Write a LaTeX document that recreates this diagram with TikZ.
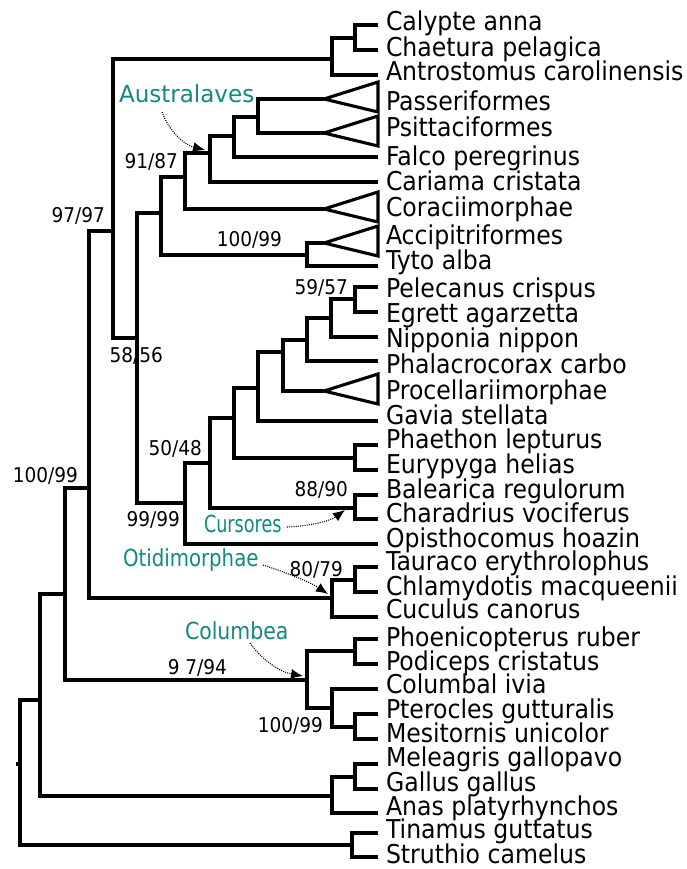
\documentclass[tikz,border=0pt]{standalone}
\usepackage{fontspec}
\setmainfont{DejaVu Sans}
\usetikzlibrary{arrows.meta}
\definecolor{cladeteal}{RGB}{17,136,128}
\newcommand{\tallText}[1]{\scalebox{1}[1.1]{#1}}
\tikzset{
  br/.style={line width=3.1pt, line join=miter, black},
  leaf/.style={anchor=base west, inner sep=0pt, outer sep=0pt, font=\fontsize{23.6}{24}\selectfont},
  supp/.style={anchor=base east, inner sep=0pt, outer sep=0pt, font=\fontsize{18.5}{19}\selectfont},
  clade/.style={anchor=base west, inner sep=0pt, outer sep=0pt, text=cladeteal, font=\fontsize{23.5}{24}\selectfont},
  pointer/.style={line width=1.1pt, dash pattern=on 1pt off 1.2pt, -{Latex[length=12pt,width=10pt]}},
}
\begin{document}
\begin{tikzpicture}[x=1pt,y=-1pt]
\useasboundingbox (0,0) rectangle (687,869);
% internal nodes
\coordinate (R) at (20,764);
\coordinate (A1) at (40,700);
\coordinate (A2) at (65,594);
\coordinate (A3) at (89,488);
\coordinate (A4) at (113,231);
\coordinate (Cal) at (332,59);
\coordinate (CC) at (355,38);
\coordinate (A5) at (137,338);
\coordinate (A6) at (161,213);
\coordinate (AT) at (307,255);
\coordinate (A7) at (185,177);
\coordinate (Aus) at (210,153);
\coordinate (A8) at (234,136);
\coordinate (A9) at (258,117);
\coordinate (W) at (185,503);
\coordinate (W1) at (210,463);
\coordinate (Curs) at (355,508);
\coordinate (W2) at (234,418);
\coordinate (PE) at (355,458);
\coordinate (W3) at (258,388);
\coordinate (W4) at (283,352);
\coordinate (W5) at (307,340);
\coordinate (W6) at (331,318);
\coordinate (W7) at (355,299);
\coordinate (Oti) at (332,598);
\coordinate (TC) at (355,580);
\coordinate (Col) at (307,680);
\coordinate (PP) at (355,651);
\coordinate (CPM) at (332,708);
\coordinate (PM) at (355,727);
\coordinate (G) at (332,796);
\coordinate (MG) at (355,777);
\coordinate (T) at (352,845);
% tips
\coordinate (tCal) at (378,25);
\coordinate (tCha) at (378,50);
\coordinate (tAnt) at (378,75);
\coordinate (tPas) at (324,99);
\coordinate (tPsi) at (324,133);
\coordinate (tFal) at (378,157);
\coordinate (tCar) at (378,182);
\coordinate (tCor) at (324,209);
\coordinate (tAcc) at (324,243);
\coordinate (tTyt) at (378,266);
\coordinate (tPel) at (378,287);
\coordinate (tEgr) at (378,312);
\coordinate (tNip) at (378,337);
\coordinate (tPha) at (378,361);
\coordinate (tPro) at (324,391);
\coordinate (tGav) at (378,421);
\coordinate (tPht) at (378,445);
\coordinate (tEur) at (378,470);
\coordinate (tBal) at (378,495);
\coordinate (tChr) at (378,519);
\coordinate (tOpi) at (378,544);
\coordinate (tTau) at (378,567);
\coordinate (tChl) at (378,592);
\coordinate (tCuc) at (378,617);
\coordinate (tPho) at (378,639);
\coordinate (tPod) at (378,664);
\coordinate (tClb) at (378,689);
\coordinate (tPte) at (378,714);
\coordinate (tMes) at (378,739);
\coordinate (tMel) at (378,764);
\coordinate (tGal) at (378,789);
\coordinate (tAna) at (378,813);
\coordinate (tTin) at (378,833);
\coordinate (tStr) at (378,857);
% branches
\draw[br] (R) -- ++(-4,0);
\draw[br] (R) |- (A1);
\draw[br] (R) |- (T);
\draw[br] (A1) |- (A2);
\draw[br] (A1) |- (G);
\draw[br] (A2) |- (A3);
\draw[br] (A2) |- (Col);
\draw[br] (A3) |- (A4);
\draw[br] (A3) |- (Oti);
\draw[br] (A4) |- (Cal);
\draw[br] (A4) |- (A5);
\draw[br] (Cal) |- (CC);
\draw[br] (Cal) |- (tAnt);
\draw[br] (CC) |- (tCal);
\draw[br] (CC) |- (tCha);
\draw[br] (A5) |- (A6);
\draw[br] (A5) |- (W);
\draw[br] (A6) |- (A7);
\draw[br] (A6) |- (AT);
\draw[br] (AT) |- (tAcc);
\draw[br] (AT) |- (tTyt);
\draw[br] (A7) |- (Aus);
\draw[br] (A7) |- (tCor);
\draw[br] (Aus) |- (A8);
\draw[br] (Aus) |- (tCar);
\draw[br] (A8) |- (A9);
\draw[br] (A8) |- (tFal);
\draw[br] (A9) |- (tPas);
\draw[br] (A9) |- (tPsi);
\draw[br] (W) |- (W1);
\draw[br] (W) |- (tOpi);
\draw[br] (W1) |- (W2);
\draw[br] (W1) |- (Curs);
\draw[br] (Curs) |- (tBal);
\draw[br] (Curs) |- (tChr);
\draw[br] (W2) |- (W3);
\draw[br] (W2) |- (PE);
\draw[br] (PE) |- (tPht);
\draw[br] (PE) |- (tEur);
\draw[br] (W3) |- (W4);
\draw[br] (W3) |- (tGav);
\draw[br] (W4) |- (W5);
\draw[br] (W4) |- (tPro);
\draw[br] (W5) |- (W6);
\draw[br] (W5) |- (tPha);
\draw[br] (W6) |- (W7);
\draw[br] (W6) |- (tNip);
\draw[br] (W7) |- (tPel);
\draw[br] (W7) |- (tEgr);
\draw[br] (Oti) |- (TC);
\draw[br] (Oti) |- (tCuc);
\draw[br] (TC) |- (tTau);
\draw[br] (TC) |- (tChl);
\draw[br] (Col) |- (PP);
\draw[br] (Col) |- (CPM);
\draw[br] (PP) |- (tPho);
\draw[br] (PP) |- (tPod);
\draw[br] (CPM) |- (tClb);
\draw[br] (CPM) |- (PM);
\draw[br] (PM) |- (tPte);
\draw[br] (PM) |- (tMes);
\draw[br] (G) |- (MG);
\draw[br] (G) |- (tAna);
\draw[br] (MG) |- (tMel);
\draw[br] (MG) |- (tGal);
\draw[br] (T) |- (tTin);
\draw[br] (T) |- (tStr);
% collapsed clades
\foreach \t in {tPas,tPsi,tCor,tAcc,tPro}
  \draw[br] (\t) -- ++(54,-17) -- ++(0,30) -- cycle;
% leaf labels
\node[leaf] (nCal) at (386,31) {\tallText{Calypte anna}};
\node[leaf] (nCha) at (386,56.5) {\tallText{Chaetura pelagica}};
\node[leaf] (nAnt) at (386,80.5) {\tallText{Antrostomus carolinensis}};
\node[leaf] (nPas) at (386,110.5) {\tallText{Passeriformes}};
\node[leaf] (nPsi) at (386,136.5) {\tallText{Psittaciformes}};
\node[leaf] (nFal) at (386,165.5) {\tallText{Falco peregrinus}};
\node[leaf] (nCar) at (386,190.5) {\tallText{Cariama cristata}};
\node[leaf] (nCor) at (386,216.5) {\tallText{Coraciimorphae}};
\node[leaf] (nAcc) at (386,244.5) {\tallText{Accipitriformes}};
\node[leaf] (nTyt) at (386,269.5) {\tallText{Tyto alba}};
\node[leaf] (nPel) at (386,297.5) {\tallText{Pelecanus crispus}};
\node[leaf] (nEgr) at (386,322.5) {\tallText{Egrett agarzetta}};
\node[leaf] (nNip) at (386,347.5) {\tallText{Nipponia nippon}};
\node[leaf] (nPha) at (386,373.5) {\tallText{Phalacrocorax carbo}};
\node[leaf] (nPro) at (386,399.5) {\tallText{Procellariimorphae}};
\node[leaf] (nGav) at (386,424.5) {\tallText{Gavia stellata}};
\node[leaf] (nPht) at (386,448.5) {\tallText{Phaethon lepturus}};
\node[leaf] (nEur) at (386,473.5) {\tallText{Eurypyga helias}};
\node[leaf] (nBal) at (386,498.5) {\tallText{Balearica regulorum}};
\node[leaf] (nChr) at (386,522.5) {\tallText{Charadrius vociferus}};
\node[leaf] (nOpi) at (386,547.5) {\tallText{Opisthocomus hoazin}};
\node[leaf] (nTau) at (386,570.5) {\tallText{Tauraco erythrolophus}};
\node[leaf] (nChl) at (386,595.5) {\tallText{Chlamydotis macqueenii}};
\node[leaf] (nCuc) at (386,618.5) {\tallText{Cuculus canorus}};
\node[leaf] (nPho) at (386,646.5) {\tallText{Phoenicopterus ruber}};
\node[leaf] (nPod) at (386,670.5) {\tallText{Podiceps cristatus}};
\node[leaf] (nClb) at (386,693.5) {\tallText{Columbal ivia}};
\node[leaf] (nPte) at (386,718.5) {\tallText{Pterocles gutturalis}};
\node[leaf] (nMes) at (386,742.5) {\tallText{Mesitornis unicolor}};
\node[leaf] (nMel) at (386,766.5) {\tallText{Meleagris gallopavo}};
\node[leaf] (nGal) at (386,791.5) {\tallText{Gallus gallus}};
\node[leaf] (nAna) at (386,815.5) {\tallText{Anas platyrhynchos}};
\node[leaf] (nTin) at (386,838.5) {\tallText{Tinamus guttatus}};
\node[leaf] (nStr) at (386,863.5) {\tallText{Struthio camelus}};
% support values
\node[supp] (s1) at (105,222) {\tallText{97/97}};
\node[supp] (s2) at (178,168.5) {\tallText{91/87}};
\node[supp] (s3) at (282,246) {\tallText{100/99}};
\node[supp] (s4) at (348,294) {\tallText{59/57}};
\node[supp] (s5) at (163,362) {\tallText{58/56}};
\node[supp] (s6) at (202,455) {\tallText{50/48}};
\node[supp] (s7) at (348,496) {\tallText{88/90}};
\node[supp] (s8) at (180,526) {\tallText{99/99}};
\node[supp] (s9) at (78,482) {\tallText{100/99}};
\node[supp] (s10) at (343,576) {\tallText{80/79}};
\node[supp] (s11) at (227,674) {\tallText{9 7/94}};
\node[supp] (s12) at (323,732) {\tallText{100/99}};
% clade names
\node[clade] (cAus) at (119,103) {\scalebox{0.98}[1]{Australaves}};
\node[clade] (cCur) at (204,532) {\scalebox{0.75}[1]{Cursores}};
\node[clade] (cOti) at (123,566) {\scalebox{0.84}[1]{Otidimorphae}};
\node[clade] (cCol) at (185,639) {\scalebox{0.87}[1]{Columbea}};
% pointers
\coordinate (pAus) at (162,112);
\coordinate (hAus) at (205,150);
\coordinate (pCur) at (287,527);
\coordinate (hCur) at (345,510);
\coordinate (pOti) at (263,565);
\coordinate (hOti) at (328,594);
\coordinate (pCol) at (250,643);
\coordinate (hCol) at (303,676);
\draw[pointer] (pAus) .. controls (170,133) and (185,145) .. (hAus);
\draw[pointer] (pCur) .. controls (310,526) and (330,521) .. (hCur);
\draw[pointer] (pOti) .. controls (285,572) and (310,582) .. (hOti);
\draw[pointer] (pCol) .. controls (262,660) and (280,672) .. (hCol);
\end{tikzpicture}
\end{document}
